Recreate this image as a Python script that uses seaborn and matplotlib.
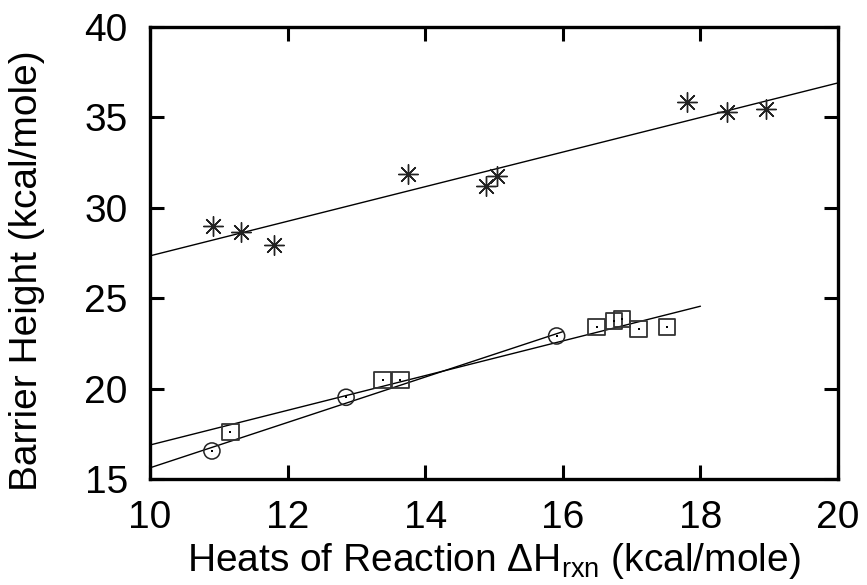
import matplotlib
matplotlib.use('Agg')
import matplotlib.pyplot as plt
import numpy as np
import seaborn as sns

# asterisks (upper group)
star_x = [10.91, 11.32, 11.80, 13.75, 14.89, 15.04, 17.80, 18.38, 18.95]
star_y = [28.99, 28.68, 27.94, 31.87, 31.22, 31.76, 35.87, 35.28, 35.46]

# circles
circ_x = [10.90, 12.85, 15.91]
circ_y = [16.55, 19.52, 22.91]

# squares
sq_x = [11.17, 13.38, 13.64, 16.49, 16.74, 16.86, 17.10, 17.52]
sq_y = [17.60, 20.48, 20.48, 23.39, 23.72, 23.85, 23.30, 23.39]

# x-range over which each fit line is drawn
star_fit_range = [10, 20]
circ_fit_range = [10, 16]
sq_fit_range = [10, 18]

sns.set_style('ticks')
plt.rcParams['font.family'] = ['Liberation Sans', 'DejaVu Sans']
plt.rcParams['mathtext.fontset'] = 'custom'
plt.rcParams['mathtext.rm'] = 'Liberation Sans'
plt.rcParams['mathtext.it'] = 'Liberation Sans:italic'
plt.rcParams['text.color'] = 'black'
plt.rcParams['axes.labelcolor'] = 'black'

fig = plt.figure(figsize=(8.67, 5.85), dpi=100)
ax = fig.add_axes([0.173, 0.1812, 0.7936, 0.7726])


def fit_line(xs, ys, xr):
    k, b = np.polyfit(xs, ys, 1)
    lx = np.array(xr, dtype=float)
    sns.lineplot(x=lx, y=k * lx + b, color='black', lw=1.0, ax=ax)


fit_line(star_x, star_y, star_fit_range)
fit_line(circ_x, circ_y, circ_fit_range)
fit_line(sq_x, sq_y, sq_fit_range)

sns.scatterplot(x=star_x, y=star_y, marker=(8, 2, 0), s=200, color='#222222',
                linewidth=1.0, ax=ax, zorder=3)
sns.scatterplot(x=circ_x, y=circ_y, marker='o', s=135, fc='none', ec='#222222',
                linewidth=1.1, ax=ax, zorder=3)
sns.scatterplot(x=sq_x, y=sq_y, marker='s', s=135, fc='none', ec='#333333',
                linewidth=1.3, ax=ax, zorder=3)
# small centre dots of the open markers
sns.scatterplot(x=circ_x + sq_x, y=circ_y + sq_y, marker='s', s=1.2,
                color='black', linewidth=0, ax=ax, zorder=4)

ax.set_xlim(10, 20)
ax.set_ylim(15, 40)
ax.set_xticks(range(10, 21, 2))
ax.set_yticks(range(15, 41, 5))

for sp in ax.spines.values():
    sp.set_linewidth(2.4)
    sp.set_color('black')
ax.tick_params(direction='in', length=10, width=2.2, top=True, right=True,
               labelsize=28, colors='black')
ax.tick_params(axis='x', pad=15)
ax.tick_params(axis='y', pad=16)

ax.set_xlabel(r'Heats of Reaction ΔH$_{\mathrm{rxn}}$ (kcal/mole)', fontsize=28,
              labelpad=4)
ax.set_ylabel('Barrier Height (kcal/mole)', fontsize=28)
ax.yaxis.set_label_coords(-0.152, 0.46)

fig.savefig('out.png', dpi=100)
